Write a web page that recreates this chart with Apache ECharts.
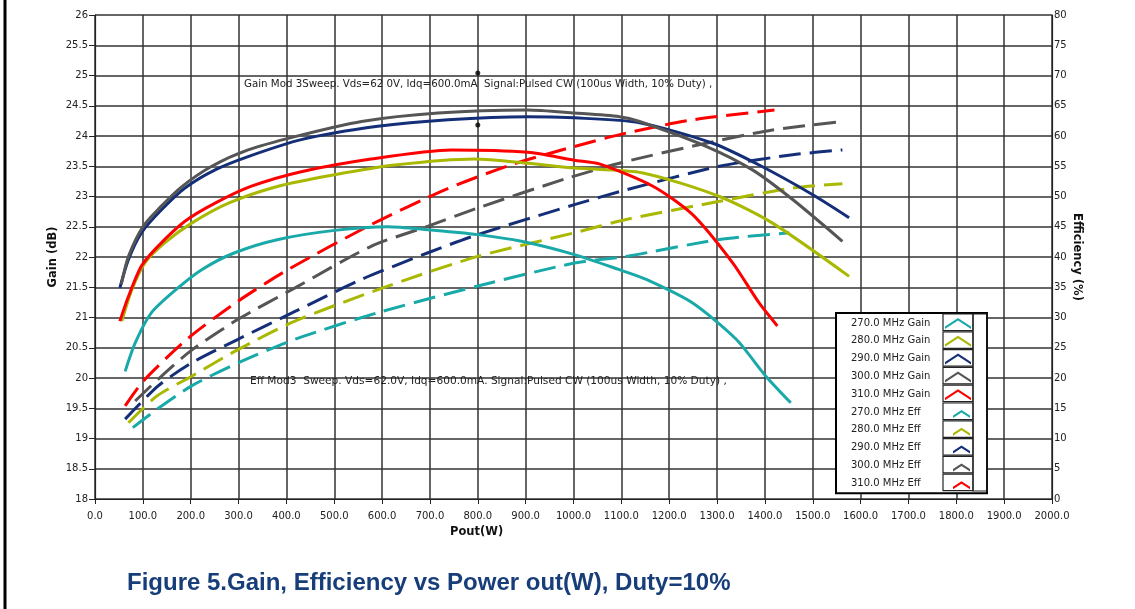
<!DOCTYPE html>
<html>
<head>
<meta charset="utf-8">
<script src="https://cdn.jsdelivr.net/npm/echarts@6/dist/echarts.min.js"></script>
<style>
  html, body { margin: 0; padding: 0; background: #fff; }
  #chart { width: 1135px; height: 609px; }
</style>
</head>
<body>
<div id="chart"></div>
<script>
// Pout (W), Gain (dB)
var gain270 = [[63,20.11],[84,20.58],[118,21.08],[169,21.46],[223,21.79],[292,22.07],[383,22.29],[501,22.44],[612,22.5],[696,22.45],[800,22.37],[891,22.26],[1002,22.04],[1096,21.79],[1152,21.63],[1249,21.24],[1340,20.64],[1402,20.03],[1454,19.59]];
var gain280 = [[56,20.94],[77,21.46],[104,21.9],[145,22.23],[202,22.56],[279,22.89],[383,23.17],[501,23.36],[626,23.52],[793,23.62],[905,23.55],[1002,23.47],[1145,23.39],[1305,23.0],[1416,22.56],[1576,21.68]];
var gain290 = [[52,21.49],[70,21.96],[97,22.4],[139,22.78],[188,23.14],[251,23.44],[320,23.66],[431,23.94],[591,24.16],[738,24.27],[904,24.32],[1002,24.3],[1138,24.22],[1291,23.88],[1388,23.52],[1500,23.03],[1576,22.65]];
var gain300 = [[55,21.55],[70,22.01],[101,22.51],[136,22.82],[181,23.16],[244,23.5],[320,23.77],[418,23.99],[557,24.24],[717,24.38],[904,24.43],[1002,24.38],[1096,24.32],[1138,24.24],[1277,23.83],[1374,23.44],[1458,22.95],[1562,22.26]];
var gain310 = [[52,20.94],[70,21.35],[97,21.85],[132,22.18],[188,22.59],[251,22.89],[327,23.17],[431,23.41],[577,23.62],[745,23.77],[905,23.73],[1002,23.6],[1054,23.54],[1166,23.17],[1249,22.7],[1333,21.9],[1388,21.24],[1426,20.86]];
// Pout (W), Efficiency (%)
var eff270 = [[79,11.8],[129,14.8],[202,18.7],[299,22.5],[418,26.4],[591,30.8],[800,35.2],[1002,39.0],[1110,40.1],[1305,42.9],[1451,44.0]];
var eff280 = [[70,12.6],[129,17.0],[202,20.3],[299,24.7],[418,29.4],[612,35.2],[800,40.1],[1002,44.0],[1110,46.2],[1305,49.2],[1458,51.4],[1562,52.1]];
var eff290 = [[63,13.2],[132,18.7],[202,22.5],[299,26.4],[418,31.0],[557,36.3],[696,40.7],[800,43.7],[1002,48.65],[1110,51.1],[1305,55.0],[1458,56.9],[1562,57.7]];
var eff300 = [[84,16.2],[132,19.8],[202,24.6],[299,29.7],[418,34.9],[577,41.77],[696,45.1],[800,48.1],[988,53.05],[1110,55.8],[1277,58.8],[1416,61.0],[1562,62.4]];
var eff310 = [[63,15.4],[101,19.5],[195,26.6],[299,32.7],[403,37.9],[577,45.35],[731,51.1],[870,55.25],[1002,58.27],[1110,60.48],[1249,62.67],[1420,64.3]];
var markerDots = [[800,25.04],[800,24.18]];

var freqs = ['270.0', '280.0', '290.0', '300.0', '310.0'];
var colors = ['#1aa9a9', '#a9b800', '#142f78', '#555555', '#ff0000'];
var gainData = [gain270, gain280, gain290, gain300, gain310];
var effData = [eff270, eff280, eff290, eff300, eff310];

var gainNote = 'Gain Mod 3Sweep. Vds=62 0V, Idq=600.0mA  Signal:Pulsed CW (100us Width, 10% Duty) ,';
var effNote = 'Eff Mod3  Sweep. Vds=62.0V, Idq=600.0mA. Signal:Pulsed CW (100us Width, 10% Duty) ,';

var font = "'DejaVu Sans', sans-serif";
var gridColor = '#333333';
var gainIcon = 'path://M0,0 M28,14 M1,10.5 L14,2 L27,10.5 L27,13 L14,4.5 L1,13 Z';
var effIcon = 'path://M0,0 M28,14 M9,10.5 L17.5,5 L26,10.5 L26,13 L17.5,7.5 L9,13 Z';

var series = [];
var legendData = [];
freqs.forEach(function (f, i) {
  series.push({
    name: f + ' MHz Gain', type: 'line', yAxisIndex: 0, data: gainData[i],
    symbol: 'none', smooth: 0.25, z: 3,
    lineStyle: { color: colors[i], width: 3 }, itemStyle: { color: colors[i] }
  });
  legendData.push({ name: f + ' MHz Gain', icon: gainIcon });
});
freqs.forEach(function (f, i) {
  series.push({
    name: f + ' MHz Eff', type: 'line', yAxisIndex: 1, data: effData[i],
    symbol: 'none', smooth: 0.25, z: 2,
    lineStyle: { color: colors[i], width: 3, type: [22, 9] }, itemStyle: { color: colors[i] }
  });
  legendData.push({ name: f + ' MHz Eff', icon: effIcon });
});
series.push({
  name: 'marker', type: 'scatter', yAxisIndex: 0, data: markerDots,
  symbolSize: 5, itemStyle: { color: '#000' }, silent: true, z: 5
});

// icon cells of the legend box
var cells = [];
for (var r = 0; r < 10; r++) {
  cells.push({
    type: 'rect', z: 20, silent: true,
    shape: { x: 943, y: 314 + r * 17.8, width: 30, height: 16.5 },
    style: { fill: 'none', stroke: '#222', lineWidth: 1.2 }
  });
}
cells.push({
  type: 'rect', z: 20, silent: true,
  shape: { x: 973, y: 314, width: 14, height: 177 },
  style: { fill: 'none', stroke: '#222', lineWidth: 1.2 }
});

var chart = echarts.init(document.getElementById('chart'));
chart.setOption({
  animation: false,
  backgroundColor: '#fff',
  title: {
    text: 'Figure 5.Gain, Efficiency vs Power out(W), Duty=10%',
    left: 127, top: 571, padding: 0,
    textStyle: { fontFamily: "'Liberation Sans', Arial, sans-serif", fontSize: 24, fontWeight: 'bold', color: '#183e7a' }
  },
  grid: { left: 95, right: 83, top: 15, bottom: 110, containLabel: false, outerBoundsMode: 'none' },
  legend: {
    orient: 'vertical', left: 836, top: 313, align: 'right',
    padding: [3, 15, 3, 15], itemWidth: 28, itemHeight: 14, itemGap: 3.8,
    backgroundColor: '#fff', borderColor: '#000', borderWidth: 2, borderRadius: 0,
    itemStyle: { borderWidth: 0 },
    formatter: function (name) { return '{t|' + name + '}'; },
    textStyle: { fontFamily: font, fontSize: 10, color: '#222', rich: { t: { width: 88, align: 'left', fontFamily: font, fontSize: 10, color: '#222' } } },
    selectedMode: false,
    data: legendData
  },
  xAxis: {
    type: 'value', min: 0, max: 2000, interval: 100,
    name: 'Pout(W)', nameLocation: 'start', nameGap: 0, nameMoveOverlap: false,
    nameTextStyle: { fontFamily: font, fontSize: 11.5, fontWeight: 'bold', color: '#111', align: 'left', verticalAlign: 'top', padding: [27, 0, 0, 355] },
    axisLine: { show: true, lineStyle: { color: '#222', width: 1.2 } },
    axisTick: { show: true, length: 5, lineStyle: { color: '#222' } },
    axisLabel: { fontFamily: font, fontSize: 10, color: '#222', margin: 12, formatter: function (v) { return v.toFixed(1); } },
    splitLine: { show: true, lineStyle: { color: gridColor, width: 1.5 } }
  },
  yAxis: [{
    type: 'value', position: 'left', min: 18, max: 26, interval: 0.5,
    name: 'Gain (dB)', nameLocation: 'middle', nameGap: 36, nameRotate: 90, nameMoveOverlap: false,
    nameTextStyle: { fontFamily: font, fontSize: 11.5, fontWeight: 'bold', color: '#111' },
    axisLine: { show: true, lineStyle: { color: '#222', width: 1.2 } },
    axisTick: { show: true, length: 6, lineStyle: { color: '#222' } },
    axisLabel: { fontFamily: font, fontSize: 10, color: '#222', margin: 7 },
    splitLine: { show: true, lineStyle: { color: gridColor, width: 1.5 } }
  }, {
    type: 'value', position: 'right', min: 0, max: 80, interval: 5,
    name: 'Efficiency (%)', nameLocation: 'middle', nameGap: 19, nameRotate: -90, nameMoveOverlap: false,
    nameTextStyle: { fontFamily: font, fontSize: 11.5, fontWeight: 'bold', color: '#111' },
    axisLine: { show: true, lineStyle: { color: '#222', width: 1.2 } },
    axisTick: { show: false },
    axisLabel: { fontFamily: font, fontSize: 10, color: '#222', margin: 2 },
    splitLine: { show: false }
  }],
  graphic: [
    { type: 'line', silent: true, shape: { x1: 5, y1: 0, x2: 5, y2: 609 }, style: { stroke: '#000', lineWidth: 3 } },
    { type: 'text', silent: true, left: 244, top: 79, z: 6,
      style: { text: gainNote, fontFamily: font, fontSize: 10.25, fill: '#222' } },
    { type: 'text', silent: true, left: 250, top: 376, z: 6,
      style: { text: effNote, fontFamily: font, fontSize: 10.6, fill: '#222' } }
  ].concat(cells),
  series: series
});
</script>
</body>
</html>
